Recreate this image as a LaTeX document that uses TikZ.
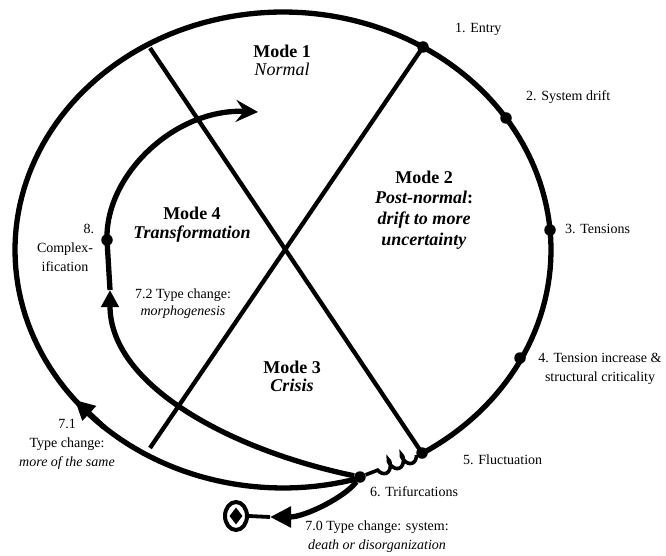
\documentclass[tikz,border=0pt]{standalone}
\usepackage{fontspec}
\setmainfont{Liberation Serif}
\usetikzlibrary{arrows.meta,shapes.geometric,decorations.pathmorphing}
\tikzset{
  curve/.style={line width=5.3pt},
  xline/.style={line width=4.3pt},
  dot/.style={circle, fill=black, inner sep=0pt, minimum size=11.5pt},
  lbl/.style={font=\fontsize{14}{19}\selectfont, inner sep=0pt, align=center},
  modetxt/.style={font=\fontsize{18}{18}\selectfont\bfseries, inner sep=0pt, align=center},
}
\begin{document}
\begin{tikzpicture}[x=1pt,y=-1pt]
\fill[white] (0,0) rectangle (666,556);
\useasboundingbox (0,0) rectangle (666,556);

% dots on the outer ellipse (centre 283,250; radii 268, 238)
\node[dot] (d1) at (423,47) {};
\node[dot] (d2) at (506,118) {};
\node[dot] (d3) at (550,230) {};
\node[dot] (d4) at (520,358) {};
\node[dot] (d5) at (422,453) {};
\node[dot] (d6) at (360,477) {};
\node[dot] (d8) at (107,240) {};

\coordinate (l1top) at (150,48);
\coordinate (l2bot) at (150,448);
\coordinate (a71s) at (103.7,426.9);
\coordinate (a71) at (74.7,399.8);
\coordinate (a72) at (110,290);
\coordinate (a8end) at (258,112);
\coordinate (t70) at (270,517);

% outer loop
\draw[curve, line join=round] plot[domain=73.3:418.7, samples=180, variable=\t]
  ({283+268*cos(\t)},{250+238*sin(\t)});
\draw[curve, -{Triangle[length=20pt,width=19pt]}] (a71s) -- (a71);

% the X
\draw[xline] (l1top) -- (d5.center);
\draw[xline] (d1.center) -- (l2bot);

% fluctuation wiggle
\draw[line width=3.6pt, decorate, decoration={coil, aspect=0.55, amplitude=6pt, segment length=14pt}] (d5) -- (d6);

% 7.2 inner branch
\draw[curve, -{Triangle[length=17pt,width=17pt]}] (d6) .. controls (230,450) and (110,385) .. (a72);
\draw[curve] (a72) -- (d8.center);
\draw[curve, -{Stealth[length=22pt,width=22pt,inset=8pt]}] (d8.center) .. controls (105,175) and (175,108) .. (a8end);

% 7.0 branch
\node[ellipse, draw, line width=4pt, minimum width=22pt, minimum height=28pt, inner sep=0pt] (sink) at (236,516) {};
\node[diamond, fill=black, inner sep=0pt, minimum width=13pt, minimum height=17pt] (dia) at (236,516) {};
\draw[curve, -{Triangle[length=21pt,width=20pt]}] (d6) .. controls (345,497) and (305,517) .. (t70);
\draw[line width=3.8pt] (sink.east) -- (t70);

% mode texts
\node[modetxt, font=\fontsize{18}{17.7}\selectfont\bfseries] (m1) at (282,60) {Mode 1\\{\mdseries\itshape Normal}};
\node[modetxt, font=\fontsize{18}{20.7}\selectfont\bfseries] (m2) at (424,210) {Mode 2\\\textit{Post-normal}:\\\textit{drift to more}\\\textit{uncertainty}};
\node[modetxt] (m3) at (292,376) {Mode 3\\\textit{Crisis}};
\node[modetxt, font=\fontsize{18}{19}\selectfont\bfseries] (m4) at (192,225) {Mode 4\\\textit{Transformation}};

% labels
\node[lbl, anchor=west] (t1) at (455,29) {1. Entry};
\node[lbl, anchor=west] (t2) at (526,97) {2. System drift};
\node[lbl, anchor=west] (t3) at (565,229) {3. Tensions};
\node[lbl] (t4) at (600,369) {4. Tension increase \&\\structural criticality};
\node[lbl, anchor=west] (t5) at (463,460) {5. Fluctuation};
\node[lbl, anchor=west] (t6) at (370,492) {6. Trifurcations};
\node[lbl] (t70txt) at (377,537) {7.0 Type change: system:\\\textit{death or disorganization}};
\node[lbl] (t71) at (67,444) {7.1\\Type change:\\\textit{more of the same}};
\node[lbl, font=\fontsize{14}{17}\selectfont] (t72) at (183,304) {7.2 Type change:\\\textit{morphogenesis}};
\node[lbl] (t8) at (65,248) {\makebox[58pt][r]{8.}\\Complex-\\ification};
\end{tikzpicture}
\end{document}
